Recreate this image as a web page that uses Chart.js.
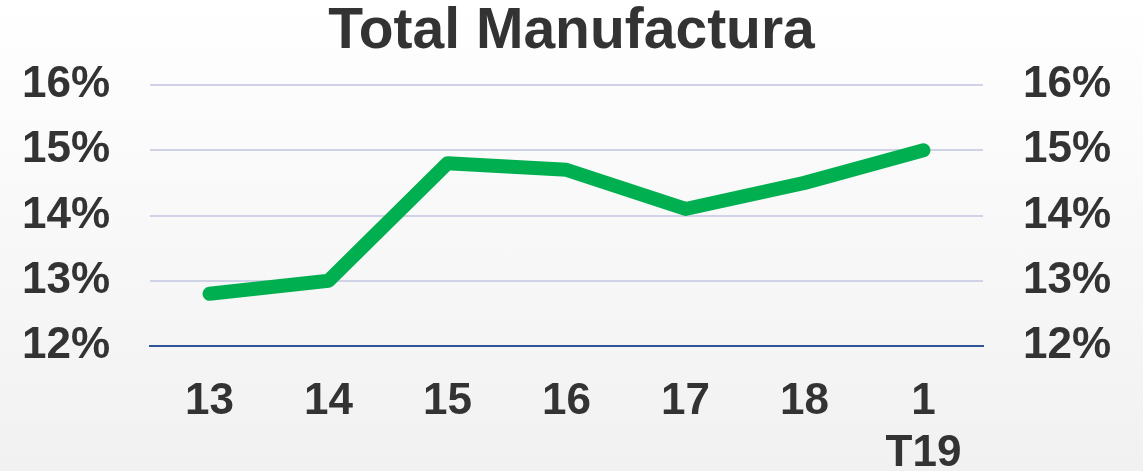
<!DOCTYPE html>
<html>
<head>
<meta charset="utf-8">
<script src="https://cdn.jsdelivr.net/npm/chart.js@4/dist/chart.umd.min.js"></script>
<style>
  html, body { margin: 0; padding: 0; }
  body { width: 1143px; height: 471px; background: linear-gradient(#ffffff, #f1f1f1); }
  #wrap { position: relative; width: 1143px; height: 471px; }
</style>
</head>
<body>
<div id="wrap"><canvas id="grafico"></canvas></div>
<script>
// periodos y porcentaje de la manufactura
const periodos = ['13', '14', '15', '16', '17', '18', ['1', 'T19']];
const valores = [12.8, 13.0, 14.8, 14.7, 14.1, 14.5, 15.0];
const escalaMin = 12;
const escalaMax = 16;

const fuente = "'Liberation Sans', Arial, sans-serif";
const colorTexto = '#333333';

function ejeY(posicion, ancho, grilla) {
    return {
        position: posicion,
        min: escalaMin,
        max: escalaMax,
        afterFit: s => { s.width = ancho; },
        border: { display: false },
        grid: {
            display: grilla,
            drawTicks: false,
            lineWidth: 2,
            color: ctx => ctx.tick && ctx.tick.value === escalaMin ? 'rgba(0,0,0,0)' : '#d0d3e6'
        },
        ticks: {
            stepSize: 1,
            padding: 40,
            color: colorTexto,
            font: { family: fuente, size: 44, weight: 'bold' },
            callback: v => v + '%'
        }
    };
}

var contexto = document.getElementById('grafico').getContext('2d');
var grafico = new Chart(contexto, {
    type: 'line',
    data: {
        labels: periodos,
        datasets: [{
            data: valores,
            borderColor: '#00b050',
            borderWidth: 14,
            borderCapStyle: 'round',
            borderJoinStyle: 'round',
            pointRadius: 0,
            tension: 0,
            yAxisID: 'y'
        }]
    },
    options: {
        responsive: true,
        maintainAspectRatio: false,
        animation: false,
        layout: { padding: 0 },
        plugins: {
            legend: { display: false },
            tooltip: { enabled: false },
            title: {
                display: true,
                text: 'Total Manufactura',
                color: colorTexto,
                font: { family: fuente, size: 57, weight: 'bold', lineHeight: 1 },
                padding: { top: 4, bottom: 24 }
            }
        },
        scales: {
            x: {
                offset: true,
                afterFit: s => { s.height = 125; },
                border: { display: true, color: '#2f5597', width: 2 },
                grid: { display: false, drawTicks: false, offset: true },
                ticks: {
                    padding: 29,
                    color: colorTexto,
                    font: { family: fuente, size: 44, weight: 'bold', lineHeight: 1.2 }
                }
            },
            y: ejeY('left', 150, true),
            y2: ejeY('right', 160, false)
        }
    }
});
</script>
</body>
</html>
